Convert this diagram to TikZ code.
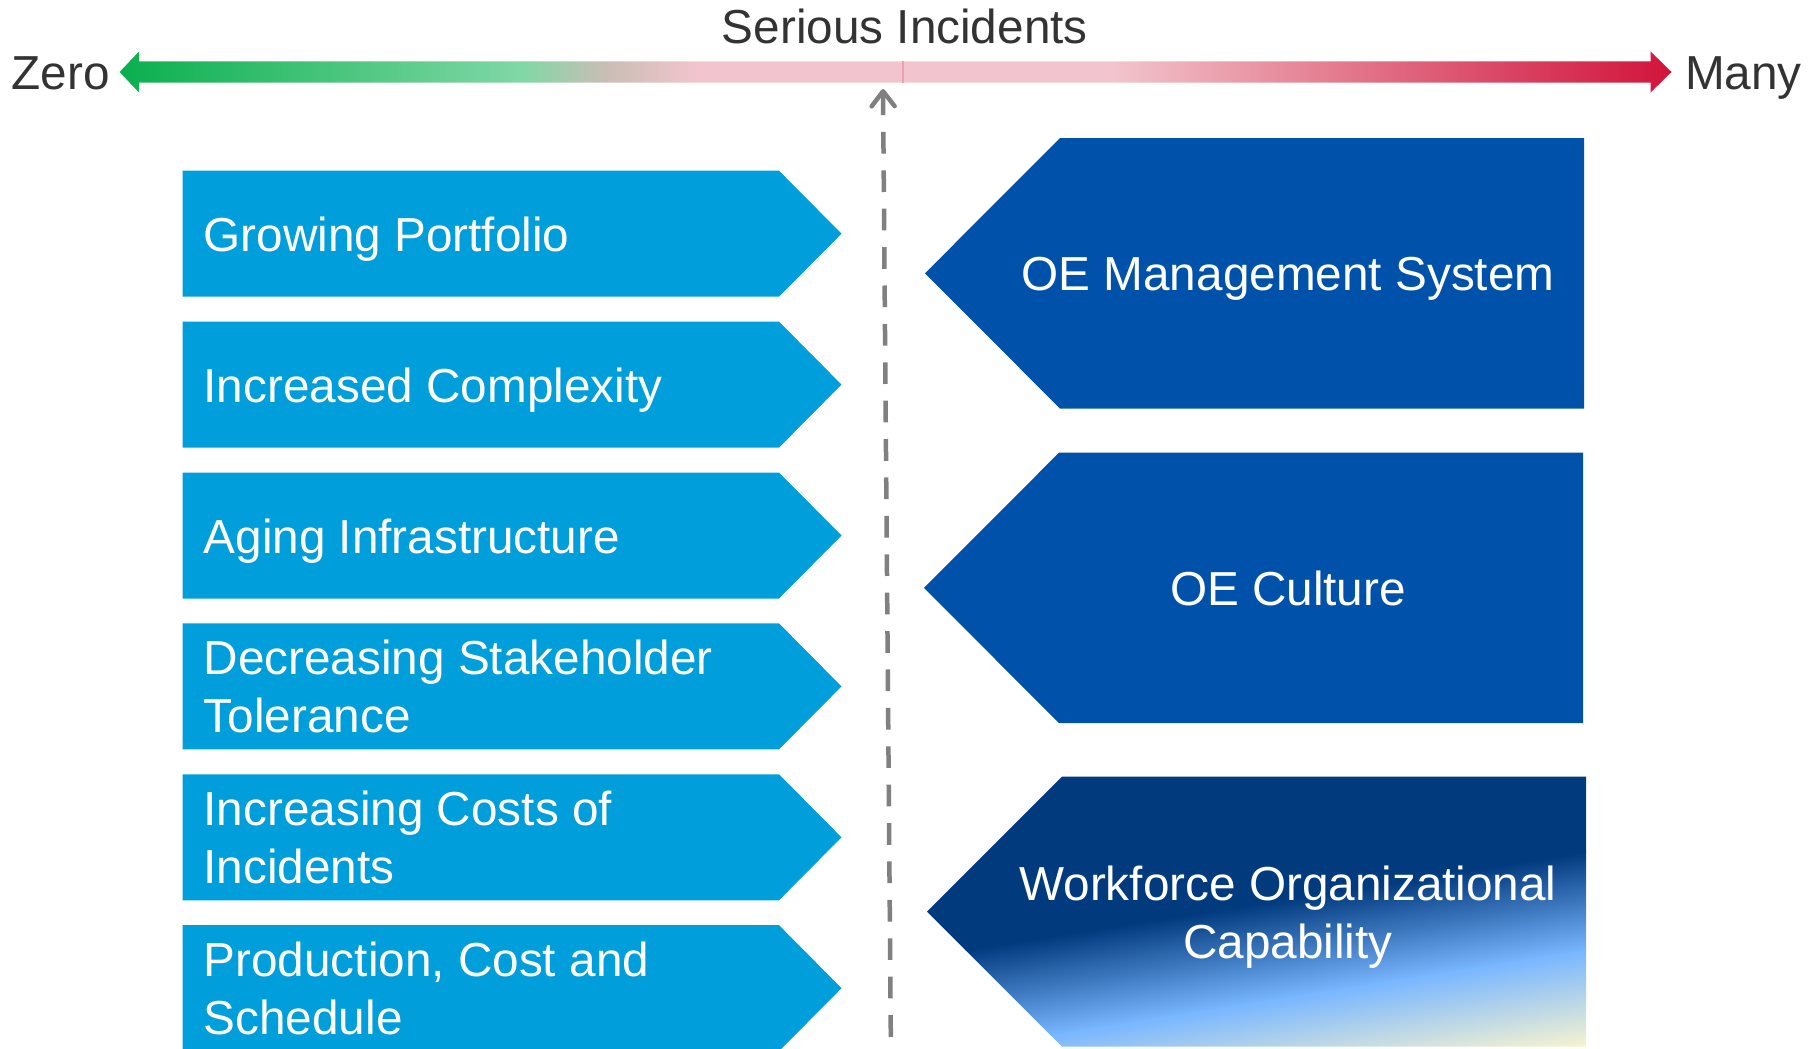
\documentclass[tikz,border=0pt]{standalone}
\usepackage{fontspec}
\setmainfont{Liberation Sans}
\usetikzlibrary{arrows.meta}
\definecolor{lbox}{RGB}{0,158,218}
\definecolor{rbox}{RGB}{0,81,170}
\definecolor{navy}{RGB}{2,58,126}
\definecolor{skyb}{RGB}{120,182,255}
\definecolor{creamc}{RGB}{252,246,206}
\definecolor{gstrong}{RGB}{10,175,78}
\definecolor{glight}{RGB}{128,216,166}
\definecolor{ggray}{RGB}{200,190,180}
\definecolor{pinkc}{RGB}{242,196,205}
\definecolor{rmid}{RGB}{230,135,152}
\definecolor{rdeep}{RGB}{218,70,102}
\definecolor{rstrong}{RGB}{210,20,58}
\definecolor{txtgray}{RGB}{51,51,51}
\definecolor{dashgray}{RGB}{128,128,128}
\definecolor{seamc}{RGB}{235,160,175}
\pgfdeclarehorizontalshading{leftbar}{100bp}{color(0bp)=(gstrong); color(25bp)=(gstrong); color(50.7bp)=(glight); color(55.9bp)=(ggray); color(61.8bp)=(pinkc); color(100bp)=(pinkc)}
\pgfdeclarehorizontalshading{rightbar}{100bp}{color(0bp)=(pinkc); color(38.7bp)=(pinkc); color(50.8bp)=(rmid); color(63.8bp)=(rdeep); color(75bp)=(rstrong); color(100bp)=(rstrong)}
\tikzset{
  fsize/.style={font=\fontsize{47.7}{58}\selectfont},
  toplbl/.style={fsize, text=txtgray, inner sep=0pt},
  leftlbl/.style={fsize, text=white, inner sep=0pt, align=left, anchor=base west},
  rightlbl/.style={fsize, text=white, inner sep=0pt, align=center, anchor=base},
  lshape/.style={fill=lbox},
  rshape/.style={fill=rbox},
}
\begin{document}
\begin{tikzpicture}[x=1pt,y=-1pt]
\useasboundingbox (0,0) rectangle (1820,1049);
% top scale bar
\shade[shading=leftbar] (903,61.5) -- (139,61.5) -- (139,51.5) -- (119.6,72) -- (139,92.5) -- (139,82.5) -- (903,82.5) -- cycle;
\shade[shading=rightbar] (903,61.5) -- (1650.6,61.5) -- (1650.6,51.5) -- (1671.5,72) -- (1650.6,92.5) -- (1650.6,82.5) -- (903,82.5) -- cycle;
\draw[seamc, line width=1.5] (903,61.5) -- (903,82.5);
\node[toplbl, anchor=base] (serious) at (904.8,43.3) {Serious Incidents};
\node[toplbl, anchor=base west] (zero) at (11.6,89.3) {Zero};
\node[toplbl, anchor=base west] (many) at (1685,89.3) {Many};
% dashed pointer
\coordinate (dtop) at (883,89);
\coordinate (dbot) at (891,1060);
\draw[dashgray, line width=4.5, dash pattern=on 21.7 off 16.7, line cap=butt, {Straight Barb[length=15pt,width=23pt,line cap=round,line join=round]}-] (dtop) -- (dbot);
% left boxes
\fill[lshape] (182.5,170.7) -- (779,170.7) -- (841.5,233.7) -- (779,296.7) -- (182.5,296.7) -- cycle;
\fill[lshape] (182.5,321.6) -- (779,321.6) -- (841.5,384.6) -- (779,447.6) -- (182.5,447.6) -- cycle;
\fill[lshape] (182.5,472.5) -- (779,472.5) -- (841.5,535.5) -- (779,598.5) -- (182.5,598.5) -- cycle;
\fill[lshape] (182.5,623.4) -- (779,623.4) -- (841.5,686.4) -- (779,749.4) -- (182.5,749.4) -- cycle;
\fill[lshape] (182.5,774.3) -- (779,774.3) -- (841.5,837.3) -- (779,900.3) -- (182.5,900.3) -- cycle;
\fill[lshape] (182.5,925.2) -- (779,925.2) -- (841.5,988.2) -- (779,1051.2) -- (182.5,1051.2) -- cycle;
\node[leftlbl] (l1) at (203.5,251.2) {Growing Portfolio};
\node[leftlbl] (l2) at (203.5,402.1) {Increased Complexity};
\node[leftlbl] (l3) at (203.5,553.0) {Aging Infrastructure};
\node[leftlbl] (l4) at (203.5,732.9) {Decreasing Stakeholder\\Tolerance};
\node[leftlbl] (l5) at (203.5,883.8) {Increasing Costs of\\Incidents};
\node[leftlbl] (l6) at (203.5,1034.7) {Production, Cost and\\Schedule};
% right boxes
\fill[rshape] (1584,138) -- (1060,138) -- (925,273.3) -- (1060,408.6) -- (1584,408.6) -- cycle;
\node[rightlbl] (r1) at (1288,290.8) {OE Management System};
\fill[rshape] (1583,452.7) -- (1059,452.7) -- (924,587.9) -- (1059,723.1) -- (1583,723.1) -- cycle;
\node[rightlbl] (r2) at (1288,605.4) {OE Culture};
\begin{scope}
  \clip (1586,776.6) -- (1062,776.6) -- (927,911.7) -- (1062,1046.7) -- (1586,1046.7) -- cycle;
  \begin{scope}[transform canvas={rotate around={9:(1256,912)}}]
    \fill[navy] (700,650) rectangle (1800,905);
    \shade[top color=navy, bottom color=skyb] (700,904) rectangle (1800,1002);
    \shade[top color=skyb, bottom color=creamc] (700,1001) rectangle (1800,1100);
    \fill[creamc] (700,1099) rectangle (1800,1200);
  \end{scope}
\end{scope}
\node[rightlbl] (r3) at (1288,958.2) {Workforce Organizational\\Capability};
\end{tikzpicture}
\end{document}
